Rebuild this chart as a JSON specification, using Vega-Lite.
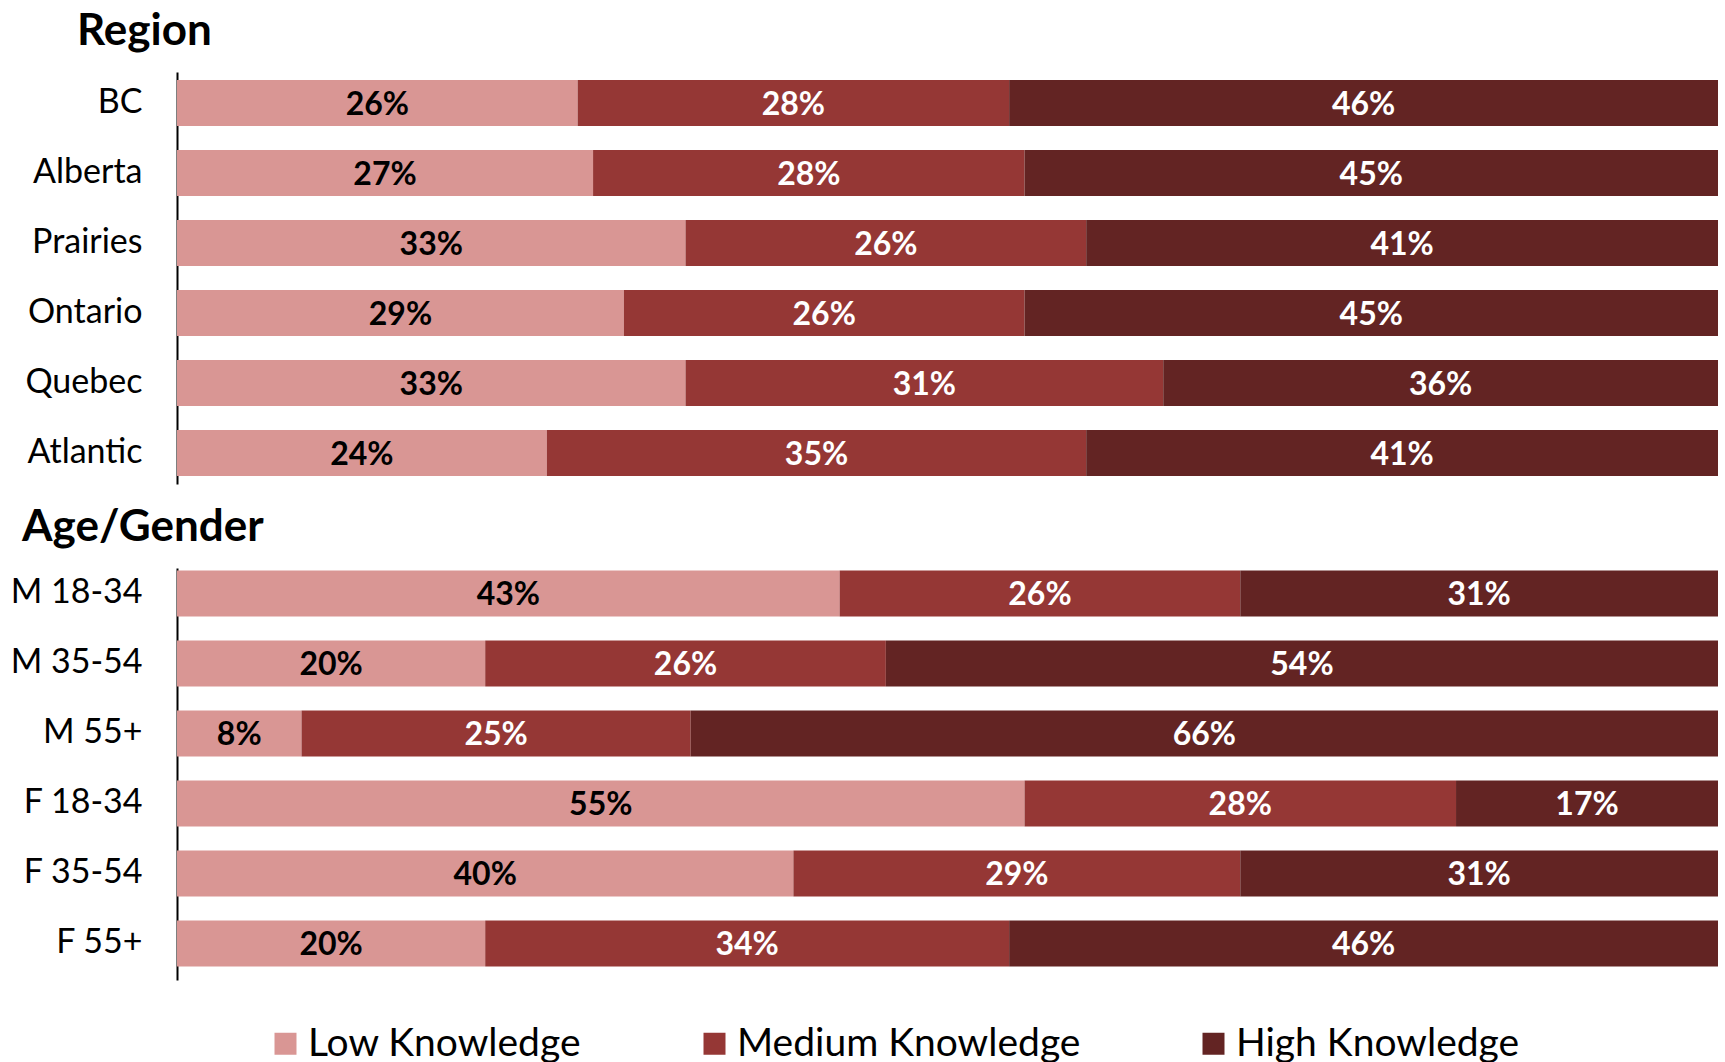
{
  "$schema": "https://vega.github.io/schema/vega-lite/v6.json",
  "background": "white",
  "padding": {"left": 0, "top": 10, "right": 5, "bottom": 0},
  "datasets": {
    "region": [
      {"cat": "BC", "level": "Low Knowledge", "order": 1, "value": 0.26},
      {"cat": "BC", "level": "Medium Knowledge", "order": 2, "value": 0.28},
      {"cat": "BC", "level": "High Knowledge", "order": 3, "value": 0.46},
      {"cat": "Alberta", "level": "Low Knowledge", "order": 1, "value": 0.27},
      {"cat": "Alberta", "level": "Medium Knowledge", "order": 2, "value": 0.28},
      {"cat": "Alberta", "level": "High Knowledge", "order": 3, "value": 0.45},
      {"cat": "Prairies", "level": "Low Knowledge", "order": 1, "value": 0.33},
      {"cat": "Prairies", "level": "Medium Knowledge", "order": 2, "value": 0.26},
      {"cat": "Prairies", "level": "High Knowledge", "order": 3, "value": 0.41},
      {"cat": "Ontario", "level": "Low Knowledge", "order": 1, "value": 0.29},
      {"cat": "Ontario", "level": "Medium Knowledge", "order": 2, "value": 0.26},
      {"cat": "Ontario", "level": "High Knowledge", "order": 3, "value": 0.45},
      {"cat": "Quebec", "level": "Low Knowledge", "order": 1, "value": 0.33},
      {"cat": "Quebec", "level": "Medium Knowledge", "order": 2, "value": 0.31},
      {"cat": "Quebec", "level": "High Knowledge", "order": 3, "value": 0.36},
      {"cat": "Atlantic", "level": "Low Knowledge", "order": 1, "value": 0.24},
      {"cat": "Atlantic", "level": "Medium Knowledge", "order": 2, "value": 0.35},
      {"cat": "Atlantic", "level": "High Knowledge", "order": 3, "value": 0.41}
    ],
    "age": [
      {"cat": "M 18-34", "level": "Low Knowledge", "order": 1, "value": 0.43},
      {"cat": "M 18-34", "level": "Medium Knowledge", "order": 2, "value": 0.26},
      {"cat": "M 18-34", "level": "High Knowledge", "order": 3, "value": 0.31},
      {"cat": "M 35-54", "level": "Low Knowledge", "order": 1, "value": 0.20},
      {"cat": "M 35-54", "level": "Medium Knowledge", "order": 2, "value": 0.26},
      {"cat": "M 35-54", "level": "High Knowledge", "order": 3, "value": 0.54},
      {"cat": "M 55+", "level": "Low Knowledge", "order": 1, "value": 0.08},
      {"cat": "M 55+", "level": "Medium Knowledge", "order": 2, "value": 0.25},
      {"cat": "M 55+", "level": "High Knowledge", "order": 3, "value": 0.66},
      {"cat": "F 18-34", "level": "Low Knowledge", "order": 1, "value": 0.55},
      {"cat": "F 18-34", "level": "Medium Knowledge", "order": 2, "value": 0.28},
      {"cat": "F 18-34", "level": "High Knowledge", "order": 3, "value": 0.17},
      {"cat": "F 35-54", "level": "Low Knowledge", "order": 1, "value": 0.40},
      {"cat": "F 35-54", "level": "Medium Knowledge", "order": 2, "value": 0.29},
      {"cat": "F 35-54", "level": "High Knowledge", "order": 3, "value": 0.31},
      {"cat": "F 55+", "level": "Low Knowledge", "order": 1, "value": 0.20},
      {"cat": "F 55+", "level": "Medium Knowledge", "order": 2, "value": 0.34},
      {"cat": "F 55+", "level": "High Knowledge", "order": 3, "value": 0.46}
    ]
  },
  "config": {
    "font": "Lato",
    "view": {"stroke": null},
    "title": {"font": "Lato", "fontSize": 44, "fontWeight": "bold", "color": "black", "anchor": "start", "frame": "group", "offset": 18},
    "axisY": {
      "title": null,
      "labelFont": "Lato",
      "labelFontSize": 34,
      "labelColor": "black",
      "labelPadding": 35,
      "ticks": false,
      "grid": false,
      "domainColor": "black",
      "domainWidth": 2,
      "minExtent": 177,
      "maxExtent": 177,
      "labelLimit": 200
    },
    "legend": {
      "orient": "none",
      "legendX": 89,
      "legendY": 952,
      "direction": "horizontal",
      "title": null,
      "symbolType": "square",
      "symbolSize": 484,
      "symbolStrokeWidth": 0,
      "symbolOpacity": 1,
      "labelFont": "Lato",
      "labelFontSize": 39,
      "labelColor": "black",
      "labelOffset": 3,
      "columnPadding": 113,
      "labelLimit": 400
    }
  },
  "spacing": 22,
  "vconcat": [
    {
      "title": {"text": "Region", "dx": -100},
      "width": 1541,
      "height": 412,
      "data": {"name": "region"},
      "transform": [
        {"stack": "value", "groupby": ["cat"], "sort": [{"field": "order"}], "offset": "normalize", "as": ["x0", "x1"]}
      ],
      "layer": [
        {
          "mark": {"type": "bar"},
          "encoding": {
            "y": {"field": "cat", "type": "nominal", "sort": ["BC", "Alberta", "Prairies", "Ontario", "Quebec", "Atlantic"], "scale": {"paddingInner": 0.343, "paddingOuter": 0.114}},
            "x": {"field": "x0", "type": "quantitative", "scale": {"domain": [0, 1], "nice": false}, "axis": null},
            "x2": {"field": "x1"},
            "color": {"field": "level", "type": "nominal", "sort": ["Low Knowledge", "Medium Knowledge", "High Knowledge"], "scale": {"domain": ["Low Knowledge", "Medium Knowledge", "High Knowledge"], "range": ["#D99694", "#953735", "#632423"]}}
          }
        },
        {
          "transform": [{"fold": ["x0", "x1"], "as": ["k", "xv"]}],
          "mark": {"type": "text", "fontSize": 32, "fontWeight": "bold", "baseline": "middle", "dy": 2},
          "encoding": {
            "y": {"field": "cat", "type": "nominal", "sort": ["BC", "Alberta", "Prairies", "Ontario", "Quebec", "Atlantic"]},
            "x": {"field": "xv", "type": "quantitative", "aggregate": "mean"},
            "detail": {"field": "level", "type": "nominal"},
            "text": {"field": "value", "type": "quantitative", "format": ".0%"},
            "color": {"condition": {"test": "datum.level === 'Low Knowledge'", "value": "black"}, "value": "white"}
          }
        }
      ]
    },
    {
      "title": {"text": "Age/Gender", "dx": -155},
      "width": 1541,
      "height": 412,
      "data": {"name": "age"},
      "transform": [
        {"stack": "value", "groupby": ["cat"], "sort": [{"field": "order"}], "offset": "normalize", "as": ["x0", "x1"]}
      ],
      "layer": [
        {
          "mark": {"type": "bar"},
          "encoding": {
            "y": {"field": "cat", "type": "nominal", "sort": ["M 18-34", "M 35-54", "M 55+", "F 18-34", "F 35-54", "F 55+"], "scale": {"paddingInner": 0.343, "paddingOuter": 0.114, "align": 0.15}},
            "x": {"field": "x0", "type": "quantitative", "scale": {"domain": [0, 1], "nice": false}, "axis": null},
            "x2": {"field": "x1"},
            "color": {"field": "level", "type": "nominal", "sort": ["Low Knowledge", "Medium Knowledge", "High Knowledge"], "scale": {"domain": ["Low Knowledge", "Medium Knowledge", "High Knowledge"], "range": ["#D99694", "#953735", "#632423"]}}
          }
        },
        {
          "transform": [{"fold": ["x0", "x1"], "as": ["k", "xv"]}],
          "mark": {"type": "text", "fontSize": 32, "fontWeight": "bold", "baseline": "middle", "dy": 2},
          "encoding": {
            "y": {"field": "cat", "type": "nominal", "sort": ["M 18-34", "M 35-54", "M 55+", "F 18-34", "F 35-54", "F 55+"]},
            "x": {"field": "xv", "type": "quantitative", "aggregate": "mean"},
            "detail": {"field": "level", "type": "nominal"},
            "text": {"field": "value", "type": "quantitative", "format": ".0%"},
            "color": {"condition": {"test": "datum.level === 'Low Knowledge'", "value": "black"}, "value": "white"}
          }
        }
      ]
    }
  ]
}
